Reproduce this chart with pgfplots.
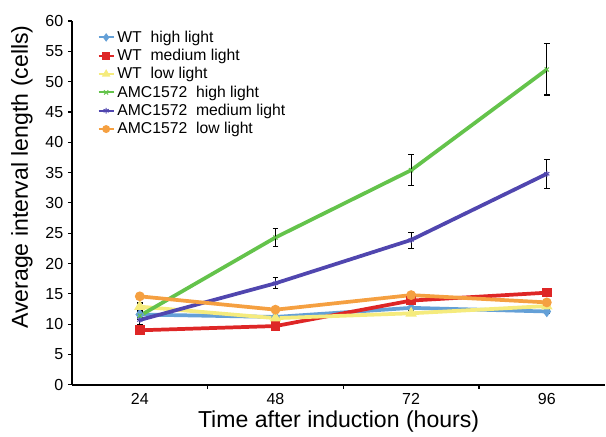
\documentclass[border=0pt]{standalone}
\usepackage{pgfplots}
\pgfplotsset{compat=1.18}
\usepackage{fontspec}
\setmainfont{Liberation Sans}

\definecolor{cblue}{RGB}{100,160,215}
\definecolor{cred}{RGB}{222,38,38}
\definecolor{cyellow}{RGB}{245,235,125}
\definecolor{cgreen}{RGB}{100,195,75}
\definecolor{cpurple}{RGB}{80,70,175}
\definecolor{corange}{RGB}{245,160,65}

% x: 0=24h, 1=48h, 2=72h, 3=96h ; columns: x y err+ err-
\begin{document}
\begin{tikzpicture}
\begin{axis}[
    scale only axis,
    width=400pt, height=273pt,
    xmin=-0.5, xmax=3.43,
    ymin=0, ymax=60,
    ytick={0,5,...,60},
    xtick={0,1,2,3},
    xticklabels={24,48,72,96},
    minor xtick={0.5,1.5,2.5},
    major x tick style={draw=none},
    minor tick length=3pt,
    major tick length=3pt,
    tick align=outside,
    tick style={black, line width=0.8pt},
    axis x line*=bottom,
    axis y line*=left,
    axis line style={-, line width=1.3pt},
    tick label style={font=\fontsize{12}{14}\selectfont},
    /pgf/number format/assume math mode=true,
    xlabel={Time after induction (hours)},
    ylabel={Average interval length (cells)},
    label style={font=\fontsize{17.3}{20}\selectfont},
    xlabel style={at={(axis description cs:0.5,-0.1)}, anchor=center},
    ylabel style={at={(axis description cs:-0.094,0.571)}, anchor=center},
    legend style={at={(axis description cs:0.045,0.985)}, anchor=north west,
        draw=none, fill=none, font=\fontsize{11.8}{13}\selectfont,
        row sep=-0.3pt, inner sep=1pt},
    legend cell align=left,
    legend image code/.code={
        \draw[#1, line width=1.5pt, mark repeat=2, mark phase=2]
            plot coordinates {(0cm,0cm) (0.2cm,0cm) (0.4cm,0cm)};},
    every axis plot/.append style={line width=2.8pt},
    error bars/y dir=both,
    error bars/y explicit,
    error bars/error bar style={black, line width=0.8pt},
    error bars/error mark options={black, rotate=90, mark size=2.2pt, line width=0.8pt},
]
\addplot[cblue, mark=diamond*, mark size=2pt, mark options={solid, fill=cblue}]
  table[x index=0, y index=1, y error plus index=2, y error minus index=3] {
0 11.6 0.5 0.5
1 11.2 0.4 0.4
2 12.7 0.5 0.5
3 12.1 0.4 0.4
};
\addplot[cred, mark=square*, mark size=2.2pt, mark options={solid, fill=cred}]
  table[x index=0, y index=1, y error plus index=2, y error minus index=3] {
0 9.0 0.3 0.3
1 9.7 0.4 0.4
2 13.9 0.5 0.5
3 15.2 0.4 0.4
};
\addplot[cyellow, mark=triangle*, mark size=2.2pt, mark options={solid, fill=cyellow}]
  table[x index=0, y index=1, y error plus index=2, y error minus index=3] {
0 12.9 0.6 0.6
1 11.0 0.4 0.4
2 11.8 0.4 0.4
3 13.0 0.4 0.4
};
\addplot[cgreen, mark=x, mark size=2.2pt, mark options={solid, line width=0.8pt}]
  table[x index=0, y index=1, y error plus index=2, y error minus index=3] {
0 11.4 0.6 0.6
1 24.3 1.5 1.5
2 35.4 2.6 2.6
3 52.0 4.3 4.2
};
\addplot[cpurple, mark=asterisk, mark size=2.2pt, mark options={solid, line width=0.8pt}]
  table[x index=0, y index=1, y error plus index=2, y error minus index=3] {
0 10.7 0.7 0.7
1 16.75 0.9 0.9
2 23.9 1.3 1.4
3 34.8 2.3 2.4
};
\addplot[corange, mark=*, mark size=2.2pt, mark options={solid, fill=corange}]
  table[x index=0, y index=1, y error plus index=2, y error minus index=3] {
0 14.6 0.4 0.4
1 12.4 0.3 0.3
2 14.8 0.4 0.4
3 13.6 0.4 0.4
};
\legend{WT\ \ high light, WT\ \ medium light, WT\ \ low light,
        AMC1572\ \ high light, AMC1572\ \ medium light, AMC1572\ \ low light}
\end{axis}
\path[use as bounding box] (-54pt,-36.75pt) rectangle (400pt,288.75pt);
\end{tikzpicture}
\end{document}
